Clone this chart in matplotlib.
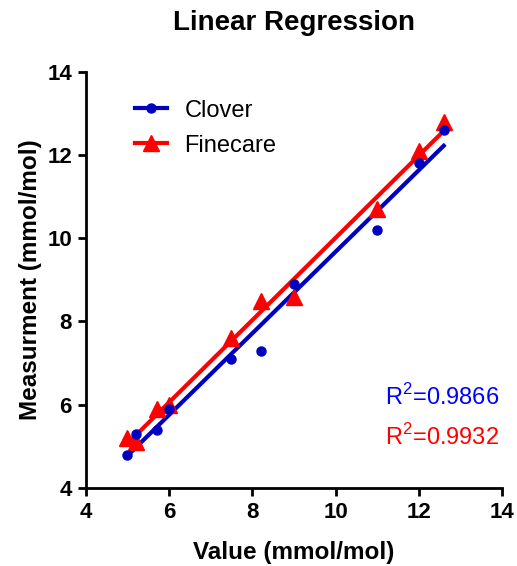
import numpy as np
import matplotlib
matplotlib.use('Agg')
import matplotlib.pyplot as plt
from matplotlib.lines import Line2D

plt.rcParams['font.family'] = ['Liberation Sans', 'DejaVu Sans']
plt.rcParams['mathtext.fontset'] = 'custom'
plt.rcParams['mathtext.rm'] = 'Liberation Sans'

# Clover readings
clover_x = [5.0, 5.2, 5.7, 6.0, 7.5, 8.2, 9.0, 11.0, 12.0, 12.6]
clover_y = [4.8, 5.3, 5.4, 5.9, 7.1, 7.3, 8.9, 10.2, 11.8, 12.6]

# Finecare readings
fine_x = [5.0, 5.2, 5.7, 6.0, 7.5, 8.2, 9.0, 11.0, 12.0, 12.6]
fine_y = [5.2, 5.1, 5.9, 6.0, 7.6, 8.5, 8.6, 10.7, 12.1, 12.8]

r2_clover = "0.9866"
r2_fine = "0.9932"

blue = '#0000c0'
red = '#ff0000'

fig = plt.figure(figsize=(5.17, 5.66), dpi=100)
ax = fig.add_axes([0.166, 0.138, 0.805, 0.735])

# regression lines
for xs, ys, col in [(clover_x, clover_y, blue), (fine_x, fine_y, red)]:
    k, b = np.polyfit(xs, ys, 1)
    xx = np.array([min(xs), max(xs)])
    ax.plot(xx, k * xx + b, color=col, lw=3, zorder=2)

ax.plot(fine_x, fine_y, '^', color=red, ms=11, mec=red, zorder=3)
ax.plot(clover_x, clover_y, 'o', color=blue, ms=6.5, zorder=4)

ax.set_xlim(4, 14)
ax.set_ylim(4, 14)
ax.set_xticks(range(4, 15, 2))
ax.set_yticks(range(4, 15, 2))
ax.spines['top'].set_visible(False)
ax.spines['right'].set_visible(False)
for s in ['left', 'bottom']:
    ax.spines[s].set_linewidth(2)
ax.tick_params(width=2, length=6, labelsize=16, direction='out', pad=4)
for lbl in ax.get_xticklabels() + ax.get_yticklabels():
    lbl.set_fontweight('bold')

ax.set_xlabel('Value (mmol/mol)', fontsize=17.5, fontweight='bold', labelpad=13)
ax.set_ylabel('Measurment (mmol/mol)', fontsize=17.5, fontweight='bold', labelpad=4)
ax.set_title('Linear Regression', fontsize=20, fontweight='bold', pad=30)

handles = [
    Line2D([], [], color=blue, lw=3, marker='o', ms=6.5),
    Line2D([], [], color=red, lw=3, marker='^', ms=11),
]
ax.legend(handles, ['Clover', 'Finecare'], loc='upper left', bbox_to_anchor=(0.118, 0.933),
          frameon=False, fontsize=17, handlelength=1.35, handletextpad=0.75,
          labelspacing=0.55, borderpad=0, borderaxespad=0)

ax.text(0.719, 0.2, 'R$^2$=' + r2_clover, transform=ax.transAxes, color='#0000ff',
        fontsize=17, va='baseline')
ax.text(0.719, 0.103, 'R$^2$=' + r2_fine, transform=ax.transAxes, color=red,
        fontsize=17, va='baseline')

fig.savefig('out.png', dpi=100)
